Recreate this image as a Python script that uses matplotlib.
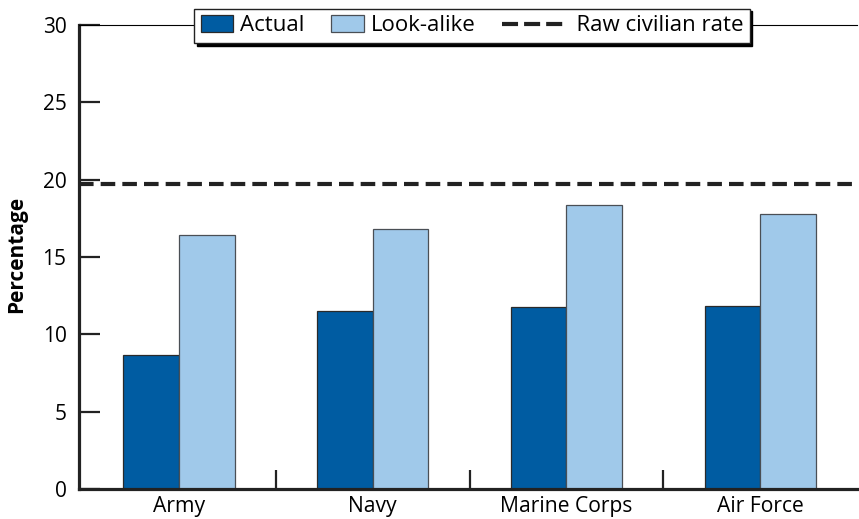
import numpy as np
import matplotlib
matplotlib.use('Agg')
import matplotlib.pyplot as plt
from matplotlib.lines import Line2D
from matplotlib.ticker import FixedLocator
from matplotlib.legend_handler import HandlerBase

services = ['Army', 'Navy', 'Marine Corps', 'Air Force']
actual = [8.65, 11.5, 11.75, 11.85]
look_alike = [16.4, 16.8, 18.35, 17.8]
civilian_rate = 19.7

plt.rcParams['font.family'] = ['Open Sans', 'DejaVu Sans']

dark_blue = '#005ca2'
light_blue = '#a0c9ea'


class LongDashHandler(HandlerBase):
    # draws the dashed sample wider than the patch handles, running into the padded label
    def create_artists(self, legend, orig_handle, xdescent, ydescent, width, height, fontsize, trans):
        y = height / 2 - ydescent
        line = Line2D([-xdescent, -xdescent + width * 1.88], [y, y], color='#222222',
                      linewidth=3, dashes=(3.85, 1.45), transform=trans)
        return [line]


fig = plt.figure(figsize=(8.59, 5.19), dpi=100)
ax = fig.add_axes([0.092, 0.058, 0.906, 0.894])

x = np.arange(len(services))
w = 0.288
ax.bar(x - w / 2, actual, w, color=dark_blue, edgecolor='#2a2a2a', linewidth=0.9, label='Actual', zorder=2)
ax.bar(x + w / 2, look_alike, w, color=light_blue, edgecolor='#4a4f55', linewidth=0.9, label='Look-alike', zorder=2)
ax.axhline(civilian_rate, color='#222222', linewidth=3, dashes=(3.5, 1.7), zorder=3)

ax.set_xlim(-0.514, 3.5)
ax.set_ylim(0, 30)
ax.set_yticks([0, 5, 10, 15, 20, 25, 30])
ax.set_xticks(x)
ax.set_xticklabels(services, fontsize=15.2)
ax.xaxis.set_minor_locator(FixedLocator([0.5, 1.5, 2.5]))
ax.tick_params(axis='x', which='major', length=0, pad=5)
ax.tick_params(axis='x', which='minor', direction='in', length=14, width=1.6, color='#222222')
ax.tick_params(axis='y', direction='in', length=15, width=1.6, color='#222222', labelsize=15, pad=9)

for side in ['left', 'bottom']:
    ax.spines[side].set_linewidth(2.3)
    ax.spines[side].set_color('#222222')
ax.spines['top'].set_linewidth(0.8)
ax.spines['right'].set_visible(False)

ax.set_ylabel('Percentage', fontsize=15, fontweight='bold')
ax.yaxis.set_label_coords(-0.067, 0.505)

dash_key = Line2D([0], [0], color='#222222')
handles = [
    plt.Rectangle((0, 0), 1, 1, facecolor=dark_blue, edgecolor='#2a2a2a', linewidth=0.9),
    plt.Rectangle((0, 0), 1, 1, facecolor=light_blue, edgecolor='#4a4f55', linewidth=0.9),
    dash_key,
]
leg = ax.legend(handles, ['Actual', 'Look-alike', '      Raw civilian rate'], loc='center',
                bbox_to_anchor=(0.505, 0.998),
                ncol=3, fontsize=16, frameon=True, fancybox=False,
                shadow={'color': 'black', 'alpha': 1}, edgecolor='#222222', framealpha=1,
                handlelength=1.45, handleheight=0.8, handletextpad=0.32, columnspacing=1.2,
                borderpad=0.3, borderaxespad=0,
                handler_map={dash_key: LongDashHandler()})
leg.get_frame().set_linewidth(1.0)

fig.savefig('out.png', dpi=100)
